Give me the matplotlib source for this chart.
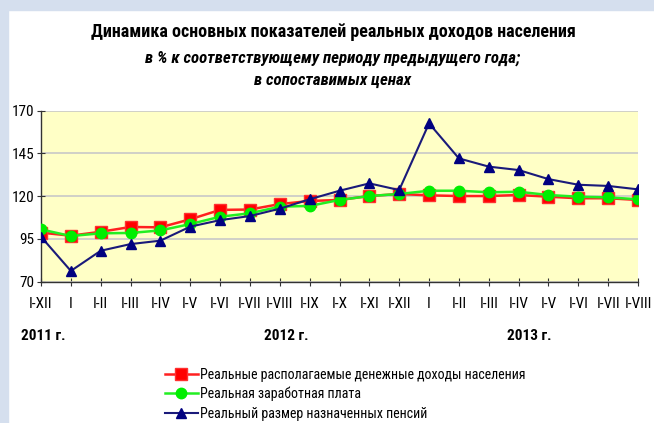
import matplotlib
matplotlib.use("Agg")
import matplotlib.pyplot as plt
from matplotlib.patches import Rectangle
from matplotlib import font_manager
from matplotlib.ft2font import FT2Font

periods = ["I-XII", "I", "I-II", "I-III", "I-IV", "I-V", "I-VI", "I-VII", "I-VIII", "I-IX",
           "I-X", "I-XI", "I-XII", "I", "I-II", "I-III", "I-IV", "I-V", "I-VI", "I-VII", "I-VIII"]
income = [98.7, 96.9, 99.2, 102.0, 101.8, 106.5, 112.0, 112.2, 115.4, 117.2,
          117.8, 120.1, 121.3, 120.5, 120.1, 120.1, 120.7, 119.7, 118.8, 118.8, 117.8]
wages = [100.6, 96.7, 98.3, 98.5, 100.0, 103.7, 108.0, 110.0, 113.9, 114.3,
         117.8, 120.1, 121.3, 123.2, 123.2, 122.3, 122.6, 120.7, 119.7, 119.3, 118.2]
pensions = [96.3, 76.3, 88.1, 92.0, 94.0, 102.2, 106.0, 108.4, 112.7, 118.2,
            123.2, 127.5, 123.6, 162.6, 142.1, 137.3, 135.3, 130.0, 126.7, 126.0, 124.0]
years = ["2011 г.", "2012 г.", "2013 г."]
yticks = [70, 95, 120, 145, 170]
labels = ["Реальные располагаемые денежные доходы населения",
          "Реальная заработная плата",
          "Реальный размер назначенных пенсий"]


def has_cyr(path):
    try:
        return ord('Д') in FT2Font(path).get_charmap()
    except Exception:
        return False


prefs = ['Arial Narrow', 'Liberation Sans Narrow', 'Roboto Condensed', 'PT Sans Narrow',
         'Fira Sans Condensed', 'Open Sans Condensed', 'Sofia Sans Semi Condensed']
fams = {}
for f in font_manager.fontManager.ttflist:
    fams.setdefault(f.name, []).append(f.fname)
chosen = None
for p in prefs:
    if p in fams and any(has_cyr(fp) for fp in fams[p]):
        chosen = p
        break
plt.rcParams['font.family'] = ([chosen] if chosen else []) + ['Liberation Sans', 'DejaVu Sans']

fig = plt.figure(figsize=(6.54, 4.23), dpi=100)
fig.patch.set_facecolor('white')
fig.add_artist(Rectangle((0, 1 - 10/423), 1, 10/423, transform=fig.transFigure,
                         color='#D5DFEE', zorder=0))
fig.add_artist(Rectangle((0, 0), 8/654, 1, transform=fig.transFigure,
                         color='#D5DFEE', zorder=0))

ax = fig.add_axes([41/654, 1 - 281.7/423, (638 - 41)/654, (281.7 - 110.7)/423])
ax.set_facecolor('#FFFFC6')
x = list(range(len(periods)))
ax.plot(x, income, color='#FF2020', lw=1.8, marker='s', ms=8.5, mfc='#FF0000',
        mec='#FF3030', label=labels[0], zorder=3)
ax.plot(x, wages, color='#22EE22', lw=1.8, marker='o', ms=7.5, mfc='#00EE00',
        mec='#00EE00', label=labels[1], zorder=4)
ax.plot(x, pensions, color='#1A1A7A', lw=1.5, marker='^', ms=7.5, mfc='#000080',
        mec='#000080', label=labels[2], zorder=5)

ax.set_xlim(0, len(periods) - 1)
ax.set_ylim(70, 170)
ax.set_yticks(yticks)
ax.set_xticks(x)
ax.set_xticklabels(periods)
ax.grid(axis='y', color='#C8C8C8', lw=1.2)
ax.set_axisbelow(True)
for s in ['top', 'right']:
    ax.spines[s].set_visible(False)
for s in ['left', 'bottom']:
    ax.spines[s].set_color('#333333')
    ax.spines[s].set_linewidth(1.0)
ax.tick_params(axis='both', direction='inout', length=6, color='#333333', labelsize=11)
ax.tick_params(axis='x', pad=8)
ax.tick_params(axis='y', pad=2)

fig.text(333/654, 1 - 32/423, "Динамика основных показателей реальных доходов населения",
         ha='center', va='center', fontsize=13, fontweight='bold')
fig.text(333/654, 1 - 58/423, "в % к соответствующему периоду предыдущего года;",
         ha='center', va='center', fontsize=12.2, fontweight='bold', style='italic')
fig.text(333/654, 1 - 80/423, "в сопоставимых ценах",
         ha='center', va='center', fontsize=12.2, fontweight='bold', style='italic')

for xp, t in zip([21, 264, 507], years):
    fig.text(xp/654, 1 - 336/423, t, ha='left', va='center', fontsize=11, fontweight='bold')

leg = fig.legend(loc='upper left', bbox_to_anchor=(159/654, 1 - 362/423), frameon=False,
                 fontsize=10, handlelength=2.4, handletextpad=0.15, labelspacing=0.38,
                 borderaxespad=0)

fig.savefig("out.png", dpi=100)
